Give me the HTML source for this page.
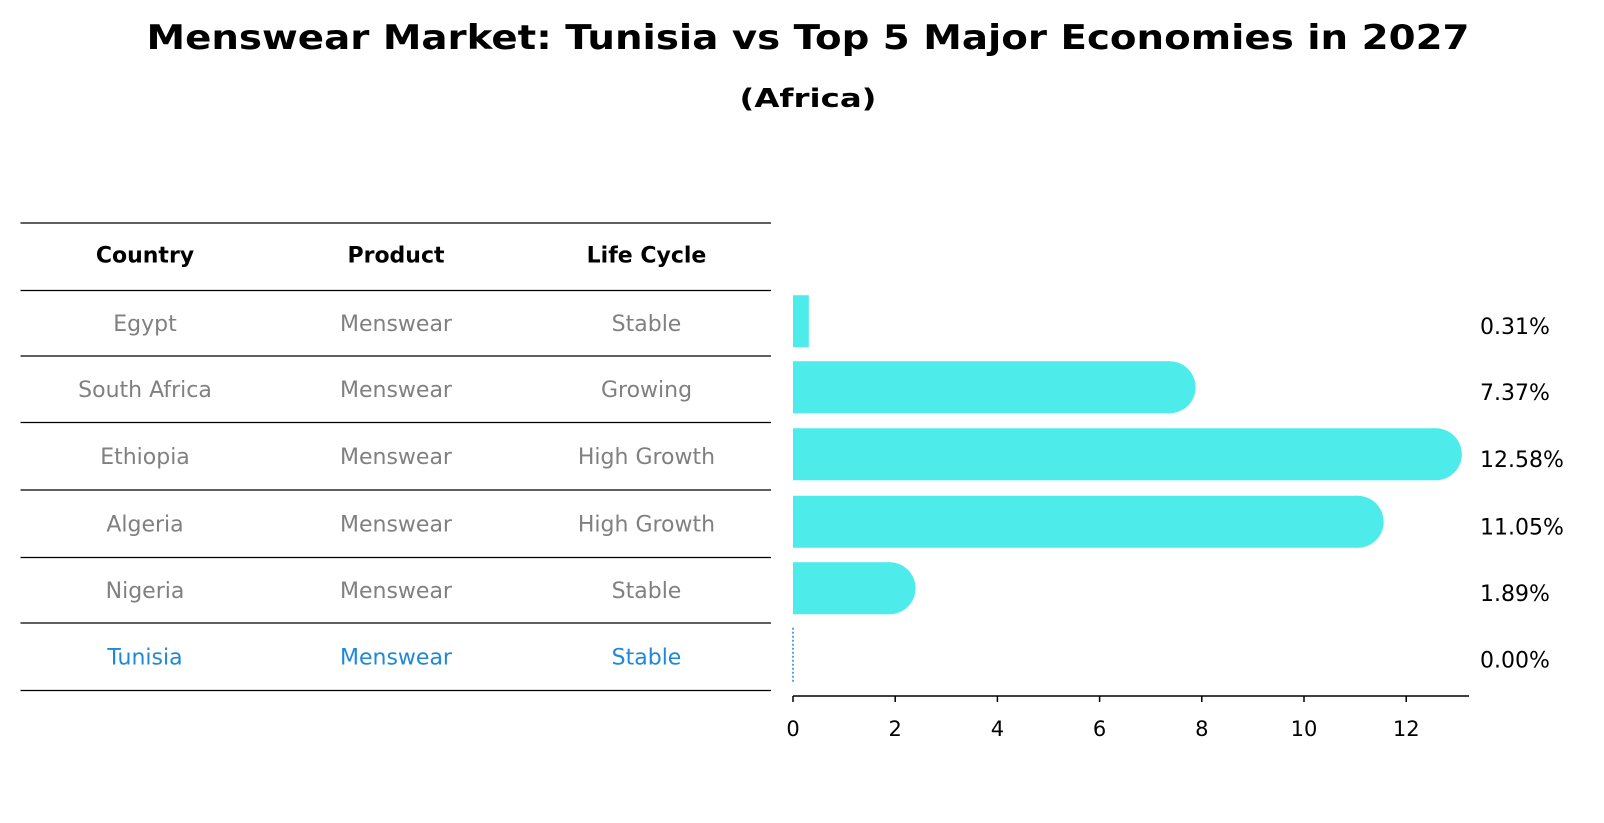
<!DOCTYPE html>
<html><head><meta charset="utf-8"><style>
html,body{margin:0;padding:0;background:#fff;}
svg{display:block;font-family:"DejaVu Sans","Liberation Sans",sans-serif;}
</style></head><body>
<svg id="chart" width="1604" height="823" viewBox="0 0 1604 823" xmlns="http://www.w3.org/2000/svg">
<text x="808" y="38" text-anchor="middle" dominant-baseline="central" font-weight="bold" font-size="34" textLength="1323" lengthAdjust="spacingAndGlyphs">Menswear Market: Tunisia vs Top 5 Major Economies in 2027</text>
<text x="808" y="99" text-anchor="middle" dominant-baseline="central" font-weight="bold" font-size="26" textLength="137" lengthAdjust="spacingAndGlyphs">(Africa)</text>
<g id="table"></g>
<g id="bars"></g>
</svg>
<script>
const countries = ["Egypt","South Africa","Ethiopia","Algeria","Nigeria","Tunisia"];
const products = ["Menswear","Menswear","Menswear","Menswear","Menswear","Menswear"];
const lifeCycles = ["Stable","Growing","High Growth","High Growth","Stable","Stable"];
const values = [0.31,7.37,12.58,11.05,1.89,0.00];
const valueLabels = ["0.31%","7.37%","12.58%","11.05%","1.89%","0.00%"];
const tickValues = [0,2,4,6,8,10,12];
const headers = ["Country","Product","Life Cycle"];

const NS="http://www.w3.org/2000/svg";
function mk(tag, attrs, parent){const e=document.createElementNS(NS,tag);for(const k in attrs)e.setAttribute(k,attrs[k]);parent.appendChild(e);return e;}
const X0=793, PX=51.1;
function xs(v){return X0+v*PX;}
const rowTop=[290.5,356,422.5,490,557.5,623];
const rowBottom=690.5;
function rowCenter(i){return (rowTop[i]+(i<5?rowTop[i+1]:rowBottom))/2;}
const colX=[145,396,646.5];

const table=document.getElementById('table');
const lineYs=[223].concat(rowTop).concat([rowBottom]);
lineYs.forEach((y,i)=>{
  const l=mk('line',{x1:20.5,x2:771,y1:y,y2:y,stroke:'#000','stroke-width':1.2},table);
  
  
});
headers.forEach((h,j)=>{
  const t=mk('text',{x:colX[j],y:256,'text-anchor':'middle','dominant-baseline':'central','font-weight':'bold','font-size':22},table);
  t.textContent=h;
  
  
});
countries.forEach((c,i)=>{
  const col = c==="Tunisia" ? "#1f88d8" : "#808080";
  const cells=[c,products[i],lifeCycles[i]];
  cells.forEach((v,j)=>{
    const t=mk('text',{x:colX[j],y:rowCenter(i)+1,'text-anchor':'middle','dominant-baseline':'central','font-size':22,fill:col},table);
    t.textContent=v;
    
    
  });
});

const bars=document.getElementById('bars');
const BH=52, R=26;
values.forEach((v,i)=>{
  const cy=rowCenter(i)-2;
  if(v>0){
    const w=xs(v)-X0;
    const r=mk('rect',{x:X0,y:cy-BH/2,width:w,height:BH,fill:'#4deceb'},bars);
    
    
    if(v>1){
      const c=mk('circle',{cx:xs(v),cy:cy,r:R,fill:'#4deceb'},bars);
      
      
    }
  } else {
    const l=mk('line',{x1:xs(v),x2:xs(v),y1:cy-27,y2:cy+27,stroke:'#1f88d8','stroke-width':1.5,'stroke-dasharray':'2,2'},bars);
    
    
  }
  const t=mk('text',{x:1480,y:rowCenter(i)+4,'dominant-baseline':'central','font-size':22,fill:'#000'},bars);
  t.textContent=valueLabels[i];
  
  
});
const axY=696;
const ax=mk('line',{x1:X0,x2:1469,y1:axY,y2:axY,stroke:'#000','stroke-width':1.5},bars);


tickValues.forEach(v=>{
  const tk=mk('line',{x1:xs(v),x2:xs(v),y1:axY,y2:axY+6,stroke:'#000','stroke-width':1.5},bars);
  
  
  const t=mk('text',{x:xs(v),y:729,'text-anchor':'middle','dominant-baseline':'central','font-size':21},bars);
  t.textContent=String(v);
  
  
});
</script>
</body></html>
